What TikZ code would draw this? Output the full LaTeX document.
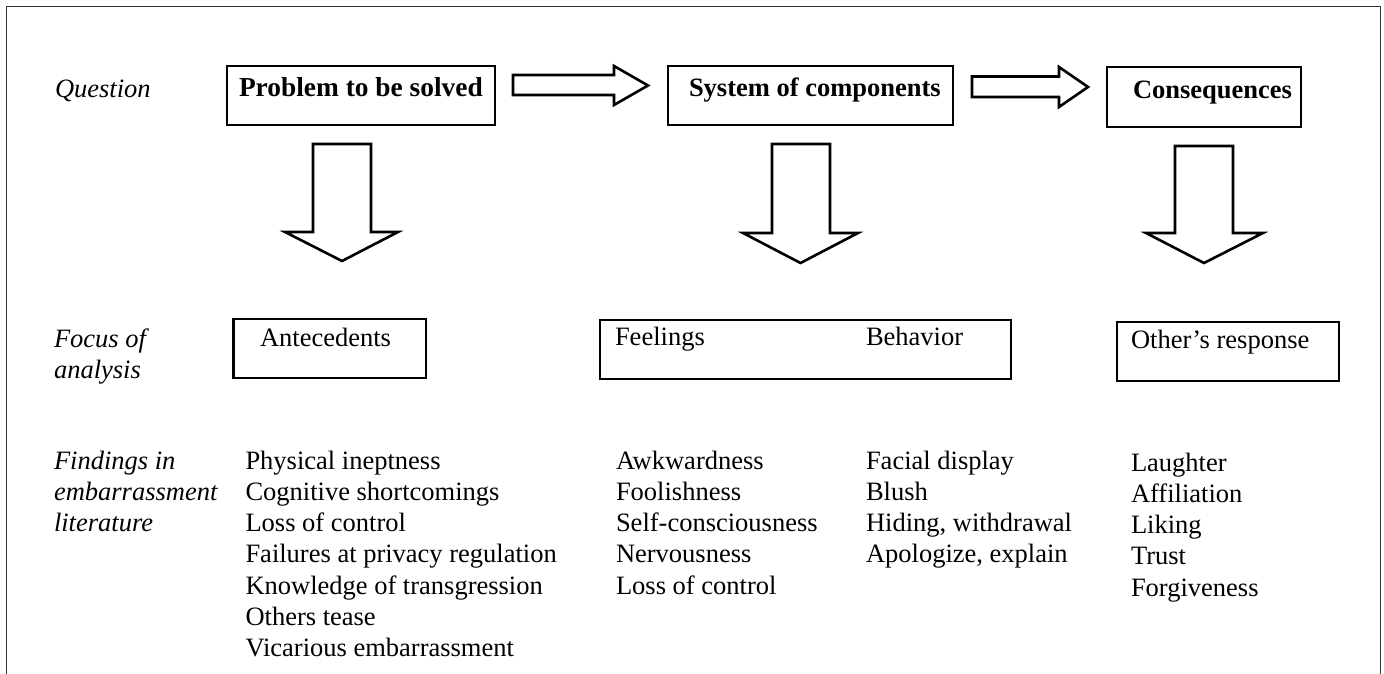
\documentclass[tikz,border=0pt]{standalone}
\usepackage{fontspec}
\setmainfont{Liberation Serif}
\begin{document}
\begin{tikzpicture}[x=1pt,y=-1pt,
  box/.style={draw, line width=2.6pt, inner sep=0pt, outer sep=0pt},
  txt/.style={anchor=base west, inner sep=0pt, outer sep=0pt, font=\fontsize{26.5}{31}\selectfont},
  hdr/.style={txt, font=\fontsize{26.5}{31}\selectfont\bfseries},
  lbl/.style={txt, font=\fontsize{26.5}{31}\selectfont\itshape},
  blockarrow/.style={draw, line width=2.6pt, line join=miter, fill=white},
  frameline/.style={draw=black!80, line width=1.6pt}]
\useasboundingbox (0,0) rectangle (1384,674);
% outer frame (open at the bottom)
\draw[frameline] (6.5,674) -- (6.5,6.5) -- (1380.5,6.5) -- (1380.5,674);

% row labels
\node[lbl] (q) at (55,98) {Question};
\node[lbl] (fa1) at (54,347) {Focus of};
\node[lbl] (fa2) at (54,378) {analysis};
\node[lbl] (fi1) at (54,469) {Findings in};
\node[lbl] (fi2) at (54,500.3) {embarrassment};
\node[lbl] (fi3) at (54,531.6) {literature};

% top boxes
\node[box, minimum width=268pt, minimum height=59pt] (pbox) at (361,95.5) {};
\node[hdr, font=\fontsize{27.4}{31}\selectfont\bfseries] (ptxt) at (239,97) {Problem to be solved};
\node[box, minimum width=285pt, minimum height=59pt] (sbox) at (810.5,95.5) {};
\node[hdr] (stxt) at (689,97) {System of components};
\node[box, minimum width=194pt, minimum height=60pt] (cbox) at (1204,97) {};
\node[hdr] (ctxt) at (1133,98.5) {Consequences};

% horizontal block arrows
\draw[blockarrow] (513,75) -- (614,75) -- (614,66) -- (648,85.5) -- (614,105) -- (614,95) -- (513,95) -- cycle;
\draw[blockarrow] (972,76.5) -- (1059,76.5) -- (1059,67) -- (1088,87) -- (1059,107) -- (1059,97) -- (972,97) -- cycle;

% down block arrows
\draw[blockarrow] (313,144) -- (371,144) -- (371,232) -- (398,232) -- (342,261) -- (285,232) -- (313,232) -- cycle;
\draw[blockarrow] (772,144) -- (830,144) -- (830,233) -- (858,233) -- (800.5,263) -- (743,233) -- (772,233) -- cycle;
\draw[blockarrow] (1175,146) -- (1233,146) -- (1233,233) -- (1263,233) -- (1204,263) -- (1146,233) -- (1175,233) -- cycle;

% focus boxes
\node[box, minimum width=192.5pt, minimum height=59pt] (abox) at (329.75,348.5) {};
\node[txt] (atxt) at (260,346) {Antecedents};
\node[box, minimum width=411pt, minimum height=59pt] (fbbox) at (805.5,349.5) {};
\node[txt] (ftxt) at (615,345.5) {Feelings};
\node[txt] (btxt) at (866,345.5) {Behavior};
\node[box, minimum width=222pt, minimum height=59pt] (obox) at (1228,351.5) {};
\node[txt] (otxt) at (1131,348) {Other’s response};

% findings lists
\foreach \t [count=\i from 0] in {Physical ineptness, Cognitive shortcomings, Loss of control, Failures at privacy regulation, Knowledge of transgression, Others tease, Vicarious embarrassment}
  \node[txt] (ant\i) at (245.5,{469+31.3*\i}) {\t};
\foreach \t [count=\i from 0] in {Awkwardness, Foolishness, Self-consciousness, Nervousness, Loss of control}
  \node[txt] (fee\i) at (616,{469+31.3*\i}) {\t};
\foreach \t [count=\i from 0] in {Facial display, Blush, {Hiding, withdrawal}, {Apologize, explain}}
  \node[txt] (beh\i) at (866,{469+31.3*\i}) {\t};
\foreach \t [count=\i from 0] in {Laughter, Affiliation, Liking, Trust, Forgiveness}
  \node[txt] (oth\i) at (1131,{471+31.3*\i}) {\t};
\end{tikzpicture}
\end{document}
